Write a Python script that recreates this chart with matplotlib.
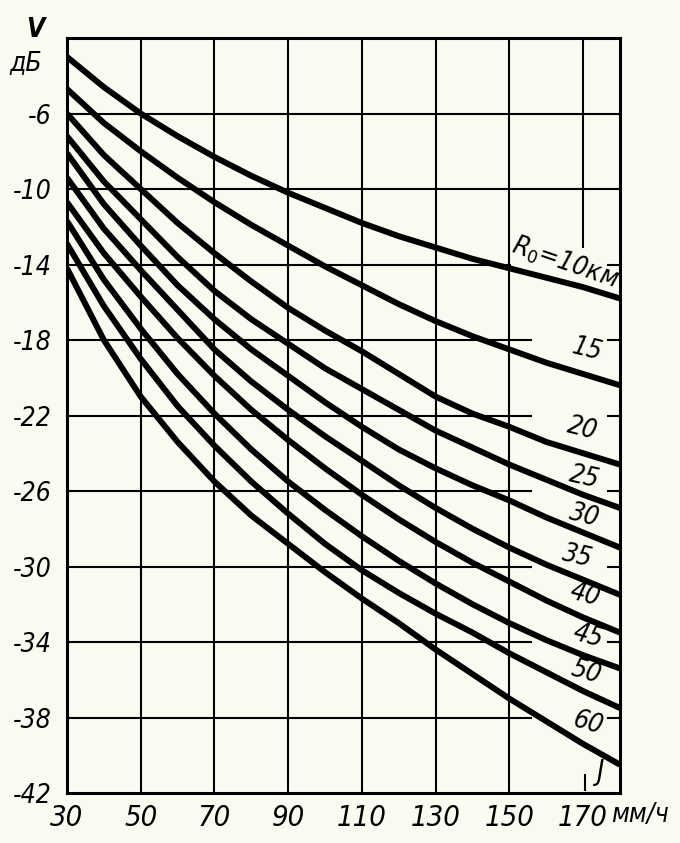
import matplotlib.pyplot as plt
import numpy as np

# rain intensity J, mm/h
rate = [30, 40, 50, 60, 70, 80, 90, 100, 110, 120, 130, 140, 150, 160, 170, 180]

# V, dB for each path length R0
v10 = [-3.0, -4.6, -6.0, -7.2, -8.3, -9.3, -10.2, -11.0, -11.8, -12.5, -13.1, -13.7, -14.2, -14.7, -15.2, -15.8]
v15 = [-4.7, -6.5, -8.0, -9.4, -10.7, -11.9, -13.0, -14.1, -15.1, -16.1, -17.0, -17.8, -18.5, -19.2, -19.8, -20.4]
v20 = [-6.0, -8.2, -10.0, -11.8, -13.4, -14.9, -16.3, -17.5, -18.6, -19.8, -21.0, -21.9, -22.6, -23.4, -24.0, -24.6]
v25 = [-7.2, -9.6, -11.6, -13.6, -15.4, -16.9, -18.2, -19.5, -20.6, -21.7, -22.8, -23.7, -24.6, -25.4, -26.2, -26.9]
v30 = [-8.1, -10.8, -13.0, -15.1, -16.9, -18.5, -19.9, -21.3, -22.6, -23.8, -24.8, -25.7, -26.5, -27.4, -28.2, -29.0]
v35 = [-9.4, -12.1, -14.3, -16.4, -18.5, -20.2, -21.7, -23.1, -24.4, -25.7, -26.9, -28.0, -29.0, -29.9, -30.7, -31.5]
v40 = [-10.7, -13.4, -15.7, -17.9, -19.9, -21.7, -23.3, -24.8, -26.2, -27.5, -28.7, -29.8, -30.8, -31.8, -32.7, -33.5]
v45 = [-11.7, -14.8, -17.4, -19.8, -21.9, -23.8, -25.5, -27.0, -28.4, -29.7, -30.9, -32.0, -33.0, -33.9, -34.7, -35.4]
v50 = [-12.9, -16.2, -19.0, -21.5, -23.6, -25.5, -27.2, -28.8, -30.2, -31.4, -32.5, -33.5, -34.6, -35.6, -36.6, -37.5]
v60 = [-14.2, -18.0, -21.0, -23.4, -25.5, -27.3, -28.8, -30.3, -31.7, -33.0, -34.4, -35.7, -37.0, -38.2, -39.4, -40.5]

curves = [v10, v15, v20, v25, v30, v35, v40, v45, v50, v60]
curve_labels = ['$R_0$=10км', '15', '20', '25', '30', '35', '40', '45', '50', '60']

xticks = [30, 50, 70, 90, 110, 130, 150, 170]
yticks = [-6, -10, -14, -18, -22, -26, -30, -34, -38, -42]

# where the curve labels sit (data units) and their tilt
lab_x = [165.2, 171.2, 169.8, 170.4, 170.4, 168.5, 170.4, 171.2, 170.9, 171.2]
lab_y = [-13.9, -18.5, -22.7, -25.3, -27.3, -29.5, -31.5, -33.7, -35.6, -38.3]
lab_rot = [-19, -14, -14, -13, -14, -13, -15, -16, -16, -16]

plt.rcParams['font.family'] = ['DejaVu Sans']
plt.rcParams['font.stretch'] = 'condensed'
plt.rcParams['mathtext.fontset'] = 'dejavusans'

paper = '#fbfaf1'
fig = plt.figure(figsize=(6.8, 8.43), dpi=100, facecolor=paper)
ax = fig.add_axes([0.0985, 0.0593, 0.8133, 0.8956])
ax.set_facecolor(paper)
ax.set_xlim(30, 180)
ax.set_ylim(-42, -2)

# grid, broken on the right where the labels go
ax.vlines(xticks[1:-1], -42, -2, color='black', lw=1.5, zorder=1)
ax.vlines(170, -13.1, -2, color='black', lw=1.5, zorder=1)
ax.hlines([-6, -10], 30, 180, color='black', lw=1.5, zorder=1)
ax.hlines(-14, 30, 150.5, color='black', lw=1.5, zorder=1)
ax.hlines(yticks[3:-1], 30, 156, color='black', lw=1.5, zorder=1)
ax.hlines(yticks[2:-1], 176.5, 180, color='black', lw=1.5, zorder=1)
ax.vlines(170.6, -41.9, -41.0, color='black', lw=1.5, zorder=1)

for v in curves:
    ax.plot(rate, v, color='black', lw=4.3, solid_capstyle='butt',
            solid_joinstyle='round', zorder=3)

for lab, x, y, r in zip(curve_labels, lab_x, lab_y, lab_rot):
    ax.text(x, y, lab, fontsize=19, style='italic', rotation=r,
            ha='center', va='center', zorder=4)
ax.text(174.4, -40.9, 'J', fontsize=20, style='italic', ha='center', va='center')

for s in ax.spines.values():
    s.set_linewidth(2.2)

ax.set_xticks(xticks)
ax.set_yticks(yticks)
ax.set_xticklabels([str(t) for t in xticks], fontsize=21, style='italic')
ax.set_yticklabels(['-' + str(-t) for t in yticks], fontsize=19, style='italic')
ax.tick_params(length=0, pad=11)
ax.tick_params(axis='x', pad=8)

fig.text(0.052, 0.964, 'V', fontsize=19, style='italic', weight='bold', ha='center', va='center')
fig.text(0.038, 0.925, 'дБ', fontsize=19, style='italic', ha='center', va='center')
fig.text(0.898, 0.033, 'мм/ч', fontsize=19, style='italic', ha='left', va='center')

fig.savefig('out.png', dpi=100, facecolor=paper)
